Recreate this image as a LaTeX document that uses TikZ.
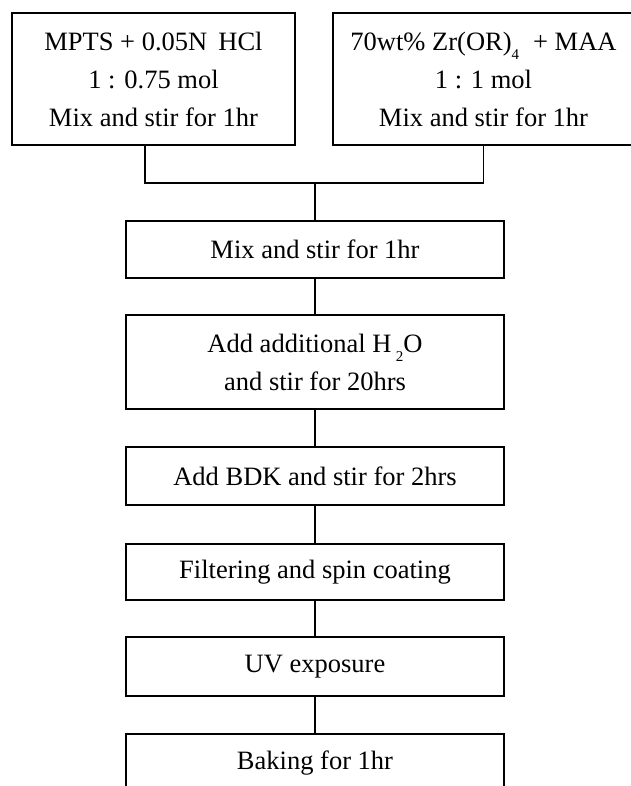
\documentclass[tikz,border=0pt]{standalone}
\usepackage{fontspec}
\setmainfont{Liberation Serif}
% subscript set well below the baseline
\newcommand{\lowsub}[1]{\raisebox{-0.36em}{\fontsize{15}{15}\selectfont #1}}
\begin{document}
\begin{tikzpicture}[x=1pt,y=-1pt,
  box/.style={draw=black,line width=1.7pt,inner sep=0pt,align=center,
    font=\fontsize{26.5}{38}\selectfont},
  stepbox/.style={box,minimum width=378pt},
  link/.style={draw=black,line width=1.2pt}]
\useasboundingbox[fill=white] (0,0) rectangle (630,786);

% starting solutions
\node[box,minimum width=283pt,minimum height=132pt] (mpts) at (153.5,79)
  {\raisebox{-7pt}{\parbox{283pt}{\centering MPTS + 0.05N\, HCl\\ 1 : 0.75 mol\\ Mix and stir for 1hr}}};
\node[box,minimum width=301pt,minimum height=132pt] (zr) at (483.5,79)
  {\raisebox{-7pt}{\parbox{301pt}{\centering 70wt\% Zr(OR)\lowsub{4}\; + MAA\\ 1 : 1 mol\\ Mix and stir for 1hr}}};

% process steps
\node[stepbox,minimum height=57pt] (mix) at (315,249.5) {Mix and stir for 1hr};
\node[stepbox,minimum height=94pt] (water) at (315,362)
  {Add additional H\,\lowsub{2}O\\ and stir for 20hrs};
\node[stepbox,minimum height=58pt] (bdk) at (315,476) {Add BDK and stir for 2hrs};
\node[stepbox,minimum height=56pt] (spin) at (315,572) {Filtering and spin coating};
\node[stepbox,minimum height=59pt] (uv) at (315,666.5) {UV exposure};
\node[stepbox,minimum height=59pt] (bake) at (315,763.5) {Baking for 1hr};

% joining the two solutions
\coordinate (lx) at (145,183);
\coordinate (join) at (315,183);
\draw[link] (lx |- mpts.south) -- (lx) -- (zr.south |- lx) -- (zr.south);
\draw[link] (join) -- (mix.north);

% chain of steps
\draw[link] (mix.south) -- (water.north);
\draw[link] (water.south) -- (bdk.north);
\draw[link] (bdk.south) -- (spin.north);
\draw[link] (spin.south) -- (uv.north);
\draw[link] (uv.south) -- (bake.north);
\end{tikzpicture}
\end{document}
